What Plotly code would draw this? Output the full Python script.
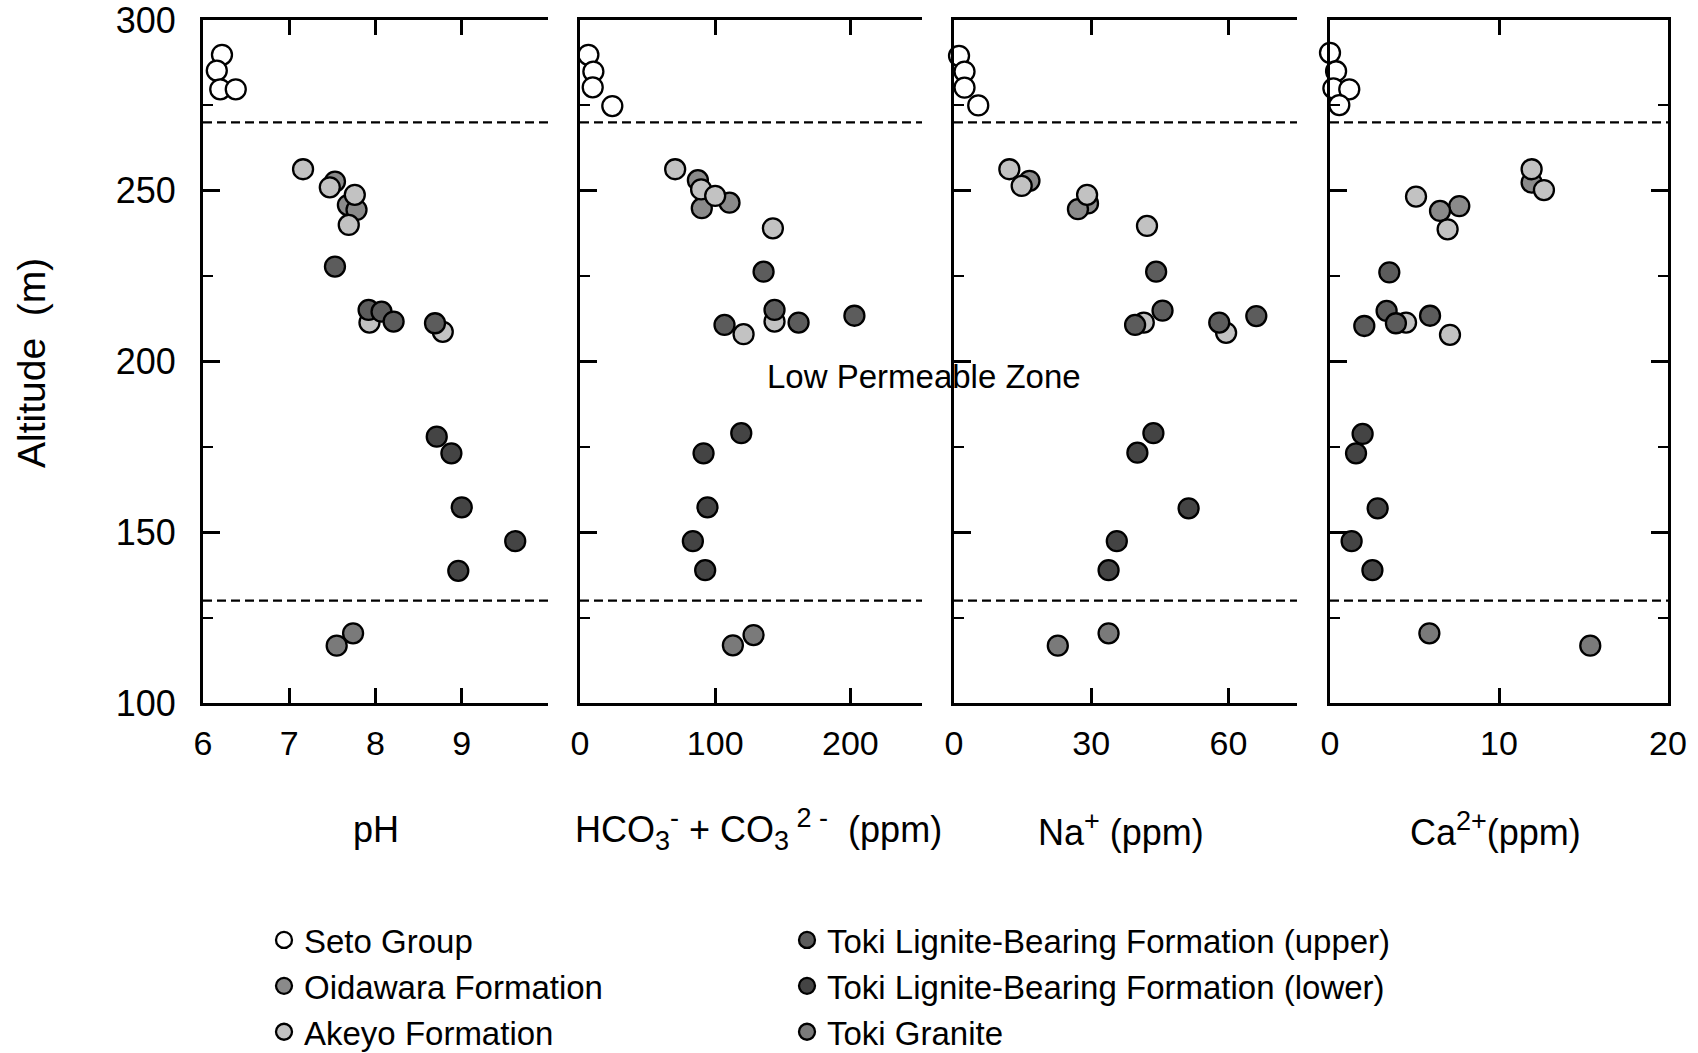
import plotly.graph_objects as go

# ---------------- data ----------------
FORMATIONS = ["Seto Group", "Oidawara Formation", "Akeyo Formation",
              "Toki Lignite-Bearing Formation (upper)",
              "Toki Lignite-Bearing Formation (lower)", "Toki Granite"]
CODES = ["S", "O", "A", "U", "L", "G"]
FILLS = ["#ffffff", "#8a8a8a", "#c2c2c2", "#5c5c5c", "#444444", "#7a7a7a"]

# pH panel
PH_ALT = [289.8, 285.2, 279.7, 279.7,
          256.3, 252.7, 251.0, 248.8, 245.8, 244.4, 240.0,
          227.8, 215.1, 214.6, 211.4, 211.7, 211.2, 208.7,
          178.0, 173.1, 157.3, 147.4, 138.7, 120.4, 116.8]
PH_VAL = [6.22, 6.16, 6.20, 6.38,
          7.16, 7.53, 7.47, 7.76, 7.68, 7.78, 7.69,
          7.53, 7.92, 8.07, 7.93, 8.21, 8.69, 8.78,
          8.71, 8.88, 9.00, 9.62, 8.96, 7.74, 7.55]
PH_GRP = ["S", "S", "S", "S",
          "A", "O", "A", "A", "O", "O", "A",
          "U", "U", "U", "A", "U", "U", "A",
          "L", "L", "L", "L", "L", "G", "G"]

# HCO3- + CO3 2- panel (ppm)
HC_ALT = [289.8, 284.9, 280.3, 274.8,
          256.3, 253.1, 250.4, 248.5, 246.5, 244.9, 239.0,
          226.3, 215.1, 211.7, 210.7, 211.4, 208.0, 213.4,
          179.0, 173.1, 157.3, 147.4, 138.9, 119.9, 116.9]
HC_VAL = [6.2, 9.9, 9.4, 23.9,
          70.4, 87.2, 89.6, 100.0, 110.6, 90.1, 142.7,
          135.8, 143.9, 143.9, 106.9, 161.7, 121.0, 203.0,
          119.3, 91.4, 94.3, 83.5, 92.6, 128.4, 113.1]
HC_GRP = ["S", "S", "S", "S",
          "A", "O", "A", "A", "O", "O", "A",
          "U", "U", "A", "U", "U", "A", "U",
          "L", "L", "L", "L", "L", "G", "G"]

# Na+ panel (ppm)
NA_ALT = [289.5, 284.9, 280.2, 275.0,
          256.3, 252.9, 251.4, 248.8, 246.3, 244.6, 239.7,
          226.3, 214.9, 211.4, 210.7, 211.4, 208.4, 213.3,
          179.0, 173.3, 157.0, 147.4, 138.9, 120.4, 116.8]
NA_VAL = [1.1, 2.3, 2.3, 5.3,
          12.1, 16.5, 14.8, 29.1, 29.3, 27.1, 42.2,
          44.2, 45.6, 41.5, 39.6, 58.0, 59.5, 66.1,
          43.6, 40.1, 51.3, 35.6, 33.8, 33.8, 22.7]
NA_GRP = ["S", "S", "S", "S",
          "A", "O", "A", "A", "O", "O", "A",
          "U", "U", "A", "U", "U", "A", "U",
          "L", "L", "L", "L", "L", "G", "G"]

# Ca2+ panel (ppm)
CA_ALT = [290.4, 285.0, 280.0, 279.7, 275.1,
          256.3, 252.4, 250.2, 248.3, 245.5, 244.1, 238.7,
          226.1, 214.8, 211.4, 210.4, 211.2, 207.8, 213.4,
          178.8, 173.1, 157.0, 147.4, 138.9, 120.4, 116.8]
CA_VAL = [0.0, 0.36, 0.2, 1.14, 0.55,
          11.93, 11.93, 12.66, 5.09, 7.65, 6.51, 6.96,
          3.51, 3.35, 4.5, 2.03, 3.9, 7.1, 5.92,
          1.93, 1.54, 2.82, 1.28, 2.51, 5.88, 15.4]
CA_GRP = ["S", "S", "S", "S", "S",
          "A", "O", "A", "A", "O", "O", "A",
          "U", "U", "A", "U", "U", "A", "U",
          "L", "L", "L", "L", "L", "G", "G"]

# zone boundaries (m)
BOUNDARIES = [270, 130]

# axis ticks
PH_TICKS = [6, 7, 8, 9]
HC_TICKS = [0, 100, 200]
NA_TICKS = [0, 30, 60]
CA_TICKS = [0, 10, 20]
ALT_TICKS = [100, 150, 200, 250, 300]

SUP = '<span style="font-size:27px">'
X_TITLES = ["pH",
            f"HCO<sub>{SUP}3</span></sub><sup>{SUP}-</span></sup> + CO<sub>{SUP}3</span></sub><sup>{SUP} 2 -</span></sup>  (ppm)",
            f"Na<sup>{SUP}+</span></sup> (ppm)",
            f"Ca<sup>{SUP}2+</span></sup>(ppm)"]

# ---------------- figure ----------------
W, H = 1698, 1053
FONT = "Liberation Sans, Arial, Helvetica, sans-serif"

panels = [
    (PH_ALT, PH_VAL, PH_GRP, [6, 10], PH_TICKS, (203, 548)),
    (HC_ALT, HC_VAL, HC_GRP, [0, 253], HC_TICKS, (580, 922)),
    (NA_ALT, NA_VAL, NA_GRP, [0, 75], NA_TICKS, (954, 1297)),
    (CA_ALT, CA_VAL, CA_GRP, [0, 20], CA_TICKS, (1330, 1668)),
]
TITLE_X = [376, 758, 1121, 1495]

Y_TOP, Y_BOT = 20, 703
ydom = [1 - Y_BOT / H, 1 - Y_TOP / H]

fig = go.Figure()
layout = dict(
    width=W, height=H,
    margin=dict(l=0, r=0, t=0, b=0, autoexpand=False),
    paper_bgcolor="white", plot_bgcolor="white",
    font=dict(family=FONT, size=33, color="black"),
    shapes=[], annotations=[],
)

for i, (alts, vals, grps, xr, tv, (px0, px1)) in enumerate(panels, start=1):
    sfx = "" if i == 1 else str(i)
    xid, yid = f"x{sfx}", f"y{sfx}"
    for c, name, fill in zip(CODES, FORMATIONS, FILLS):
        xs = [v for v, g in zip(vals, grps) if g == c]
        ys = [a for a, g in zip(alts, grps) if g == c]
        fig.add_trace(go.Scatter(
            x=xs, y=ys, mode="markers", name=name,
            xaxis=xid, yaxis=yid,
            marker=dict(size=20, color=fill, line=dict(color="black", width=2.3)),
            cliponaxis=False, legendgroup=c,
            showlegend=(i == 1),
            legend="legend" if c in ("S", "O", "A") else "legend2",
        ))
    xax = dict(
        domain=[px0 / W, px1 / W], range=xr, anchor=yid,
        tickmode="array", tickvals=tv, ticktext=[str(v) for v in tv],
        ticks="inside", ticklen=15, tickwidth=2.5, tickcolor="black",
        showline=True, linewidth=3, linecolor="black", mirror="ticks",
        showgrid=False, zeroline=False, automargin=False,
        tickfont=dict(size=34), ticklabelstandoff=8, ticklabeloverflow="allow",
    )
    if i == 1:
        xax["minor"] = dict(dtick=1, tick0=6, ticks="inside", ticklen=15,
                            tickwidth=2.5, tickcolor="black", showgrid=False)
    layout[f"xaxis{sfx}"] = xax
    layout[f"yaxis{sfx}"] = dict(
        domain=ydom, range=[100, 300], anchor=xid,
        tickmode="array", tickvals=ALT_TICKS,
        ticks="inside", ticklen=17, tickwidth=2.5, tickcolor="black",
        minor=dict(dtick=25, ticks="inside", ticklen=10, tickwidth=2, tickcolor="black"),
        showline=True, linewidth=3, linecolor="black",
        mirror="ticks" if i == 4 else False,
        showgrid=False, zeroline=False, automargin=False,
        showticklabels=(i == 1), tickfont=dict(size=36), ticklabelstandoff=17,
        ticklabeloverflow="allow",
    )
    for b in BOUNDARIES:
        layout["shapes"].append(dict(
            type="line", xref=f"{xid} domain", x0=0, x1=1, yref=yid, y0=b, y1=b,
            line=dict(color="black", width=2.2, dash="9px,5px"), layer="below",
        ))
    layout["annotations"].append(dict(
        text=X_TITLES[i - 1], xref="paper", yref="paper",
        x=TITLE_X[i - 1] / W, y=1 - 829 / H,
        xanchor="center", yanchor="middle", showarrow=False,
        font=dict(size=36),
    ))

layout["annotations"].append(dict(
    text="Altitude  (m)", xref="paper", yref="paper", x=32 / W, y=1 - 363 / H,
    textangle=-90, xanchor="center", yanchor="middle", showarrow=False,
    font=dict(size=39),
))
layout["annotations"].append(dict(
    text="Low Permeable Zone", xref="paper", yref="paper", x=924 / W, y=1 - 376 / H,
    xanchor="center", yanchor="middle", showarrow=False, font=dict(size=33),
))

legend_common = dict(
    orientation="v", bgcolor="rgba(0,0,0,0)", borderwidth=0,
    font=dict(size=33), itemsizing="trace", tracegroupgap=0,
    xanchor="left", yanchor="top", xref="container", yref="container",
)
layout["legend"] = dict(legend_common, x=264 / W, y=1 - 912 / H)
layout["legend2"] = dict(legend_common, x=787 / W, y=1 - 912 / H)

fig.update_layout(**layout)
fig.write_html("out.html", post_script="document.body.style.margin='0';",
               config={"displayModeBar": False})
